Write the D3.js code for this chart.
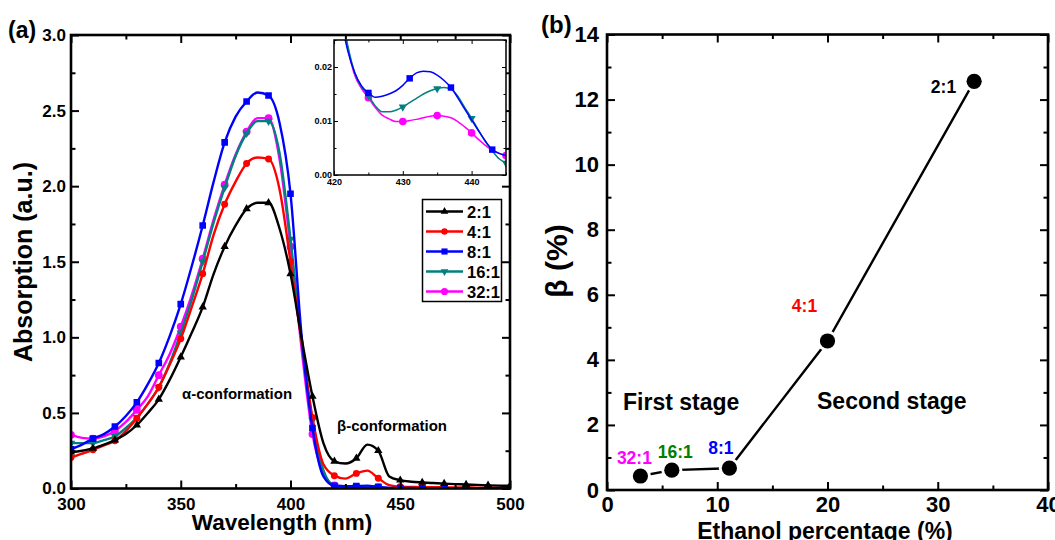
<!DOCTYPE html>
<html>
<head>
<meta charset="utf-8">
<script src="https://cdn.jsdelivr.net/npm/d3@7"></script>
<style>
  body { margin: 0; background: #fff; }
  svg { display: block; }
</style>
</head>
<body>
<svg id="chart" width="1055" height="540"></svg>
<script>
// ---------- panel (a): absorption spectra ----------
const wavelength = [300,305,310,315,320,325,330,335,340,345,350,355,360,365,370,375,380,385,390,395,
                    400,405,410,415,420,425,430,435,440,445,450,455,460,465,470,475,480,485,490,495,500];
const abs2to1  = [0.24,0.25,0.265,0.29,0.32,0.36,0.42,0.50,0.59,0.72,0.87,1.03,1.20,1.42,1.60,1.74,1.85,1.89,1.89,1.72,
                  1.42,1.00,0.61,0.30,0.18,0.165,0.20,0.29,0.25,0.08,0.055,0.045,0.040,0.036,0.032,0.029,0.026,0.024,0.021,0.019,0.018];
const abs4to1  = [0.205,0.23,0.256,0.285,0.316,0.38,0.465,0.56,0.67,0.82,0.99,1.20,1.42,1.68,1.88,2.03,2.15,2.19,2.18,1.98,
                  1.50,0.98,0.47,0.16,0.085,0.065,0.10,0.118,0.068,0.022,0.012,0.010,0.009,0.008,0.008,0.007,0.007,0.006,0.006,0.005,0.005];
const abs8to1  = [0.26,0.29,0.33,0.36,0.41,0.48,0.57,0.69,0.83,1.01,1.22,1.47,1.74,2.03,2.29,2.46,2.56,2.62,2.60,2.42,
                  1.95,1.02,0.40,0.08,0.018,0.015,0.016,0.019,0.011,0.004,0.003,0.003,0.002,0.002,0.002,0.002,0.001,0.001,0.001,0.001,0.001];
const abs16to1 = [0.30,0.30,0.30,0.32,0.345,0.40,0.47,0.56,0.67,0.83,1.03,1.25,1.50,1.76,1.99,2.20,2.35,2.43,2.43,2.22,
                  1.65,0.98,0.45,0.12,0.02,0.014,0.012,0.016,0.011,0.0025,0.002,0.002,0.002,0.002,0.001,0.001,0.001,0.001,0.001,0.001,0.001];
const abs32to1 = [0.355,0.335,0.33,0.345,0.38,0.44,0.52,0.61,0.75,0.89,1.07,1.28,1.52,1.78,2.01,2.21,2.36,2.45,2.45,2.18,
                  1.60,0.93,0.36,0.10,0.02,0.014,0.010,0.011,0.008,0.0035,0.003,0.002,0.002,0.002,0.002,0.002,0.002,0.002,0.002,0.002,0.002];
const ratioNames = ["2:1", "4:1", "8:1", "16:1", "32:1"];
const xTicksA = [300, 350, 400, 450, 500];
const xMinorA = [325, 375, 425, 475];
const yTicksA = [0, 0.5, 1.0, 1.5, 2.0, 2.5, 3.0];
const yMinorA = [0.25, 0.75, 1.25, 1.75, 2.25, 2.75];

// inset: beta band region, fine sampling
const insetWavelength = [420,421,422,423,424,425,426,427,428,429,430,431,432,433,434,435,436,437,438,439,440,441,442,443,444,445];
const inset8to1  = [0.036,0.029,0.023,0.019,0.0165,0.0152,0.0144,0.0146,0.015,0.0156,0.0166,0.0179,0.0189,0.0192,0.0191,0.0185,0.0175,0.0162,0.0143,0.0122,0.0102,0.0082,0.0063,0.0047,0.0040,0.0036];
const inset16to1 = [0.038,0.031,0.024,0.019,0.0163,0.0147,0.0128,0.0117,0.0117,0.012,0.0126,0.0134,0.0142,0.015,0.0156,0.016,0.0162,0.0159,0.0146,0.0125,0.0105,0.0083,0.0062,0.0045,0.0030,0.0022];
const inset32to1 = [0.037,0.030,0.0235,0.0185,0.016,0.0143,0.0125,0.0111,0.0104,0.0099,0.0099,0.0101,0.0103,0.0106,0.0109,0.011,0.0109,0.0106,0.0099,0.0089,0.0078,0.0066,0.0055,0.0046,0.0040,0.0036];
const insetMarks8to1 = [425, 431, 437, 443];
const insetMarksOther = [425, 430, 435, 440, 445];
const xTicksInset = [420, 430, 440];
const xMinorInset = [425, 435, 445];
const yTicksInset = [0, 0.01, 0.02];
const yMinorInset = [0.005, 0.015, 0.025];

// ---------- panel (b): beta fraction vs ethanol ----------
const ethanolPct = [3.03, 5.88, 11.1, 20.0, 33.3];
const betaPct    = [0.43, 0.61, 0.67, 4.58, 12.56];
const pointRatios = ["32:1", "16:1", "8:1", "4:1", "2:1"];
const xTicksB = [0, 10, 20, 30, 40];
const xMinorB = [5, 15, 25, 35];
const yTicksB = [0, 2, 4, 6, 8, 10, 12, 14];
const yMinorB = [1, 3, 5, 7, 9, 11, 13];

// ---------- styling ----------
const FONT = '"Liberation Sans", Arial, Helvetica, sans-serif';
const seriesStyle = [
  { color: "#000000", symbol: "triangleUp" },
  { color: "#ff0000", symbol: "circle" },
  { color: "#0000ff", symbol: "square" },
  { color: "#008080", symbol: "triangleDown" },
  { color: "#ff00ff", symbol: "circleBig" }
];
const pointLabelStyle = [
  { color: "#ff00ff", dx: -6,  dy: -12, anchor: "middle" },
  { color: "#008000", dx: 3.5, dy: -12, anchor: "middle" },
  { color: "#0000ff", dx: -8.5, dy: -14, anchor: "middle" },
  { color: "#ff0000", dx: -23, dy: -29, anchor: "middle" },
  { color: "#000000", dx: -18, dy: 11.5, anchor: "end" }
];

const svg = d3.select("#chart");

function symbolPath(kind, scale) {
  const s = scale || 1;
  switch (kind) {
    case "triangleUp":   return d3.symbol(d3.symbolTriangle, 30 * s)();
    case "triangleDown": return d3.symbol(d3.symbolTriangle, 30 * s)();
    case "square":       return d3.symbol(d3.symbolSquare, 44 * s)();
    case "circle":       return d3.symbol(d3.symbolCircle, 38 * s)();
    case "circleBig":    return d3.symbol(d3.symbolCircle, 48 * s)();
  }
}

function drawMarker(g, kind, x, y, color, scale) {
  g.append("path")
    .attr("d", symbolPath(kind, scale))
    .attr("transform", `translate(${x},${y})` + (kind === "triangleDown" ? " rotate(180)" : ""))
    .attr("fill", color);
}

function boldText(g, str, x, y, size, opts = {}) {
  const t = g.append("text")
    .attr("x", x).attr("y", y)
    .attr("font-family", FONT).attr("font-weight", "bold")
    .attr("font-size", size)
    .attr("fill", opts.fill || "#000")
    .attr("text-anchor", opts.anchor || "start")
    .text(str);
  if (opts.transform) t.attr("transform", opts.transform);
  return t;
}

// Four-sided frame with inward major/minor ticks; labels only bottom and left.
function frameAxes(g, x, y, box, o) {
  const make = (fn, scale, vals, size, fmt, pad) =>
    fn(scale).tickValues(vals).tickSizeInner(-size).tickSizeOuter(0).tickPadding(pad).tickFormat(fmt);
  const blank = () => "";
  const place = (axis, tx, ty) => {
    const sel = g.append("g").attr("transform", `translate(${tx},${ty})`).call(axis);
    sel.select(".domain").remove();
    sel.selectAll("line").attr("stroke", "#000").attr("stroke-width", o.tickWidth);
    sel.selectAll("text")
      .attr("font-family", FONT).attr("font-weight", "bold")
      .attr("font-size", o.fontSize).attr("fill", "#000");
    return sel;
  };
  place(make(d3.axisBottom, x, o.xMajor, o.major, o.fmtX, o.padX), 0, box.bottom);
  place(make(d3.axisBottom, x, o.xMinor, o.minor, blank, 0), 0, box.bottom);
  place(make(d3.axisTop, x, o.xMajor, o.major, blank, 0), 0, box.top);
  place(make(d3.axisTop, x, o.xMinor, o.minor, blank, 0), 0, box.top);
  place(make(d3.axisLeft, y, o.yMajor, o.major, o.fmtY, o.padY), box.left, 0);
  place(make(d3.axisLeft, y, o.yMinor, o.minor, blank, 0), box.left, 0);
  place(make(d3.axisRight, y, o.yMajor, o.major, blank, 0), box.right, 0);
  place(make(d3.axisRight, y, o.yMinor, o.minor, blank, 0), box.right, 0);
  g.append("rect")
    .attr("x", box.left).attr("y", box.top)
    .attr("width", box.right - box.left).attr("height", box.bottom - box.top)
    .attr("fill", "none").attr("stroke", "#000").attr("stroke-width", o.frameWidth);
}

// ================= Panel (a) =================
const A = { left: 71, right: 510, top: 35, bottom: 488.5 };
const xA = d3.scaleLinear().domain([300, 500]).range([A.left, A.right]);
const yA = d3.scaleLinear().domain([0, 3]).range([A.bottom, A.top]);
const gA = svg.append("g");

svg.append("defs").append("clipPath").attr("id", "clipA")
  .append("rect").attr("x", A.left).attr("y", A.top)
  .attr("width", A.right - A.left).attr("height", A.bottom - A.top);

const spectra = [abs2to1, abs4to1, abs8to1, abs16to1, abs32to1];
const lineA = d3.line().x(d => xA(d[0])).y(d => yA(d[1])).curve(d3.curveMonotoneX);
const plotA = gA.append("g").attr("clip-path", "url(#clipA)");
// the black 2:1 curve is drawn last so it stays on top
[4, 3, 1, 2, 0].forEach(i => {
  const pts = wavelength.map((w, k) => [w, spectra[i][k]]);
  plotA.append("path").attr("d", lineA(pts))
    .attr("fill", "none").attr("stroke", seriesStyle[i].color)
    .attr("stroke-width", 2.4).attr("stroke-linejoin", "round");
  pts.filter(p => p[0] % 10 === 0).forEach(p =>
    drawMarker(plotA, seriesStyle[i].symbol, xA(p[0]), yA(p[1]), seriesStyle[i].color, 1));
});

frameAxes(gA, xA, yA, A, {
  xMajor: xTicksA, xMinor: xMinorA, yMajor: yTicksA, yMinor: yMinorA,
  fmtX: d3.format("d"), fmtY: d3.format(".1f"),
  fontSize: 17, major: 8, minor: 4.5, padX: 9, padY: 5,
  tickWidth: 2, frameWidth: 2.6
});

// annotations
boldText(gA, "α-conformation", 182, 399, 15);
boldText(gA, "β-conformation", 337, 431, 15);

// axis titles and panel tag
boldText(gA, "(a)", 8, 38, 23);
boldText(gA, "Wavelength (nm)", 282, 530, 22.5, { anchor: "middle" });
boldText(gA, "Absorption (a.u.)", 0, 0, 25, { anchor: "middle", transform: "translate(32,262) rotate(-90)" });

// legend
const legend = gA.append("g");
legend.append("rect").attr("x", 422.5).attr("y", 199.5).attr("width", 79).attr("height", 102)
  .attr("fill", "#fff").attr("stroke", "#000").attr("stroke-width", 1.5);
ratioNames.forEach((name, i) => {
  const yy = 211.5 + i * 20;
  legend.append("line").attr("x1", 426).attr("x2", 463).attr("y1", yy).attr("y2", yy)
    .attr("stroke", seriesStyle[i].color).attr("stroke-width", 2.4);
  drawMarker(legend, seriesStyle[i].symbol, 444.5, yy, seriesStyle[i].color, 0.85);
  boldText(legend, name, 467, yy + 6, 16.5);
});

// inset
const I = { left: 334, right: 506, top: 40, bottom: 175 };
const xI = d3.scaleLinear().domain([420, 445]).range([I.left, I.right]);
const yI = d3.scaleLinear().domain([0, 0.025]).range([I.bottom, I.top]);
const gI = gA.append("g");
gI.append("rect").attr("x", I.left).attr("y", I.top).attr("width", I.right - I.left)
  .attr("height", I.bottom - I.top).attr("fill", "#fff");
svg.select("defs").append("clipPath").attr("id", "clipI")
  .append("rect").attr("x", I.left).attr("y", I.top)
  .attr("width", I.right - I.left).attr("height", I.bottom - I.top);
const lineI = d3.line().x(d => xI(d[0])).y(d => yI(d[1])).curve(d3.curveMonotoneX);
const plotI = gI.append("g").attr("clip-path", "url(#clipI)");
const insetSeries = [
  { data: inset32to1, style: seriesStyle[4], marks: insetMarksOther },
  { data: inset16to1, style: seriesStyle[3], marks: insetMarksOther },
  { data: inset8to1,  style: seriesStyle[2], marks: insetMarks8to1 }
];
insetSeries.forEach(s => {
  const pts = insetWavelength.map((w, k) => [w, s.data[k]]);
  plotI.append("path").attr("d", lineI(pts)).attr("fill", "none")
    .attr("stroke", s.style.color).attr("stroke-width", 1.5);
  pts.filter(p => s.marks.includes(p[0])).forEach(p =>
    drawMarker(plotI, s.style.symbol, xI(p[0]), yI(p[1]), s.style.color, 0.95));
});
frameAxes(gI, xI, yI, I, {
  xMajor: xTicksInset, xMinor: xMinorInset, yMajor: yTicksInset, yMinor: yMinorInset,
  fmtX: d3.format("d"), fmtY: d3.format(".2f"),
  fontSize: 9, major: 4, minor: 2.5, padX: 4, padY: 2,
  tickWidth: 1, frameWidth: 1.5
});

// ================= Panel (b) =================
const B = { left: 607, right: 1048, top: 34.5, bottom: 490 };
const xB = d3.scaleLinear().domain([0, 40]).range([B.left, B.right]);
const yB = d3.scaleLinear().domain([0, 14]).range([B.bottom, B.top]);
const gB = svg.append("g");

frameAxes(gB, xB, yB, B, {
  xMajor: xTicksB, xMinor: xMinorB, yMajor: yTicksB, yMinor: yMinorB,
  fmtX: d3.format("d"), fmtY: d3.format("d"),
  fontSize: 22, major: 8, minor: 4.5, padX: 6, padY: 8,
  tickWidth: 2, frameWidth: 2.6
});

const ptsB = ethanolPct.map((e, i) => [e, betaPct[i]]);
gB.append("path")
  .attr("d", d3.line().x(d => xB(d[0])).y(d => yB(d[1]))(ptsB))
  .attr("fill", "none").attr("stroke", "#000").attr("stroke-width", 2.4);
gB.selectAll("circle.halo").data(ptsB).join("circle").attr("class", "halo")
  .attr("cx", d => xB(d[0])).attr("cy", d => yB(d[1])).attr("r", 10.5).attr("fill", "#fff");
gB.selectAll("circle.pt").data(ptsB).join("circle").attr("class", "pt")
  .attr("cx", d => xB(d[0])).attr("cy", d => yB(d[1])).attr("r", 7.6).attr("fill", "#000");

ptsB.forEach((p, i) => {
  const st = pointLabelStyle[i];
  boldText(gB, pointRatios[i], xB(p[0]) + st.dx, yB(p[1]) + st.dy, 17.5, { fill: st.color, anchor: st.anchor });
});

boldText(gB, "First stage", 623, 410, 23);
boldText(gB, "Second stage", 817, 409, 23);

boldText(gB, "(b)", 541, 33, 24);
boldText(gB, "Ethanol percentage (%)", 825, 538.5, 23, { anchor: "middle" });
boldText(gB, "β (%)", 0, 0, 30, { anchor: "middle", transform: "translate(567,261) rotate(-90)" });
</script>
</body>
</html>
